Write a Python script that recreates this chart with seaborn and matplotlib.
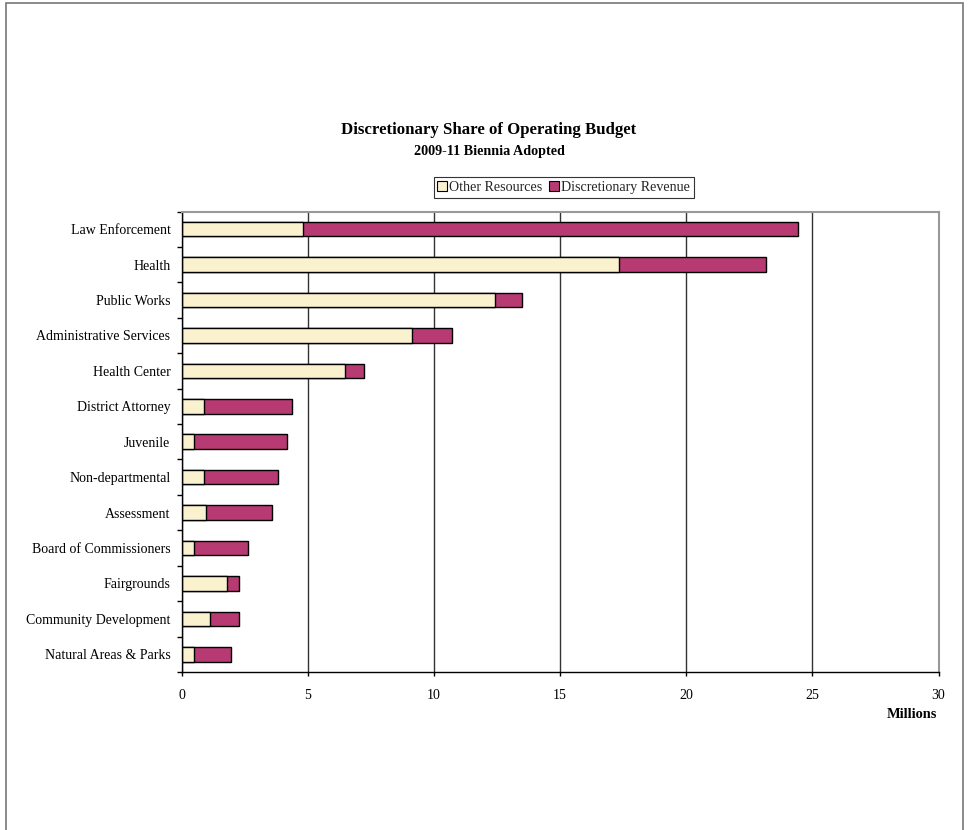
import matplotlib
matplotlib.use("Agg")
import matplotlib.pyplot as plt
import seaborn as sns
import pandas as pd
import numpy as np
from matplotlib.patches import Rectangle, Patch
from matplotlib.ticker import FixedLocator

categories = ["Law Enforcement", "Health", "Public Works", "Administrative Services",
              "Health Center", "District Attorney", "Juvenile", "Non-departmental",
              "Assessment", "Board of Commissioners", "Fairgrounds",
              "Community Development", "Natural Areas & Parks"]
other_resources = [4.81, 17.33, 12.42, 9.13, 6.49, 0.90, 0.51, 0.90, 0.98, 0.51, 1.82, 1.14, 0.51]
discretionary_revenue = [19.61, 5.83, 1.09, 1.59, 0.74, 3.49, 3.68, 2.93, 2.61, 2.14, 0.47, 1.12, 1.47]
xticks = [0, 5, 10, 15, 20, 25, 30]

sns.set_theme(style="white")
plt.rcParams['font.family'] = ['Liberation Serif', 'DejaVu Serif']

CREAM = "#FAF1CE"
MAGENTA = "#B83A73"

df = pd.DataFrame({
    "category": categories,
    "other": other_resources,
    "total": np.array(other_resources) + np.array(discretionary_revenue),
})

W, H = 969, 830
fig = plt.figure(figsize=(W / 100, H / 100), dpi=100)
top_px, bot_px, left_px, right_px = 211.5, 672, 181.5, 938.5
ax = fig.add_axes([left_px / W, 1 - bot_px / H, (right_px - left_px) / W, (bot_px - top_px) / H])

sns.barplot(data=df, y="category", x="total", orient="h", color=MAGENTA,
            edgecolor="black", linewidth=1.0, width=0.41, saturation=1, ax=ax)
sns.barplot(data=df, y="category", x="other", orient="h", color=CREAM,
            edgecolor="black", linewidth=1.0, width=0.41, saturation=1, ax=ax)

ax.set_xlim(0, 30)
ax.set_ylim(len(categories) - 0.5, -0.5)
ax.set_xticks(xticks)
ax.set_xticklabels([str(t) for t in xticks], fontsize=10)
ax.xaxis.grid(True, color="#333333", linewidth=1.0)
ax.set_axisbelow(True)
ax.set_xlabel("")
ax.set_ylabel("")
ax.tick_params(axis="y", which="major", length=0, labelsize=10, pad=8)
ax.yaxis.set_minor_locator(FixedLocator(np.arange(-0.5, len(categories), 1.0)))
ax.tick_params(axis="y", which="minor", left=True, length=3.8, width=1, color="black", direction="out")
ax.tick_params(axis="x", which="major", bottom=True, length=3, width=1, color="black",
               direction="out", pad=9)
for lab in ax.get_yticklabels():
    lab.set_color("black")
for lab in ax.get_xticklabels():
    lab.set_color("black")

for s in ["left", "bottom"]:
    ax.spines[s].set_color("black")
    ax.spines[s].set_linewidth(1.0)
for s in ["top", "right"]:
    ax.spines[s].set_color("#999999")
    ax.spines[s].set_linewidth(1.5)

fig.text(489 / W, 1 - 130.5 / H, "Discretionary Share of Operating Budget",
         ha="center", va="center", fontsize=12.1, fontweight="bold", color="black")
fig.text(489 / W, 1 - 151.5 / H, "2009-11 Biennia Adopted",
         ha="center", va="center", fontsize=10.2, fontweight="bold", color="black")
fig.text(937 / W, 1 - 714 / H, "Millions", ha="right", va="center",
         fontsize=10.4, fontweight="bold", color="black")

handles = [Patch(facecolor=CREAM, edgecolor="black", linewidth=0.8, label="Other Resources"),
           Patch(facecolor=MAGENTA, edgecolor="black", linewidth=0.8, label="Discretionary Revenue")]
leg = fig.legend(handles=handles, loc="center", bbox_to_anchor=(563.5 / W, 1 - 187.5 / H),
                 ncol=2, frameon=True, fontsize=10.1, handlelength=0.7, handleheight=0.7,
                 handletextpad=0.15, columnspacing=0.5, borderpad=0.25, fancybox=False,
                 borderaxespad=0)
leg.get_frame().set_edgecolor("black")
leg.get_frame().set_linewidth(0.8)

fig.patches.append(Rectangle((5.5 / W, -0.05), (962.5 - 5.5) / W, 1.05 - 3.5 / H,
                             transform=fig.transFigure, fill=False,
                             edgecolor="#777777", linewidth=1.2))

fig.savefig("out.png", dpi=100, facecolor="white")
